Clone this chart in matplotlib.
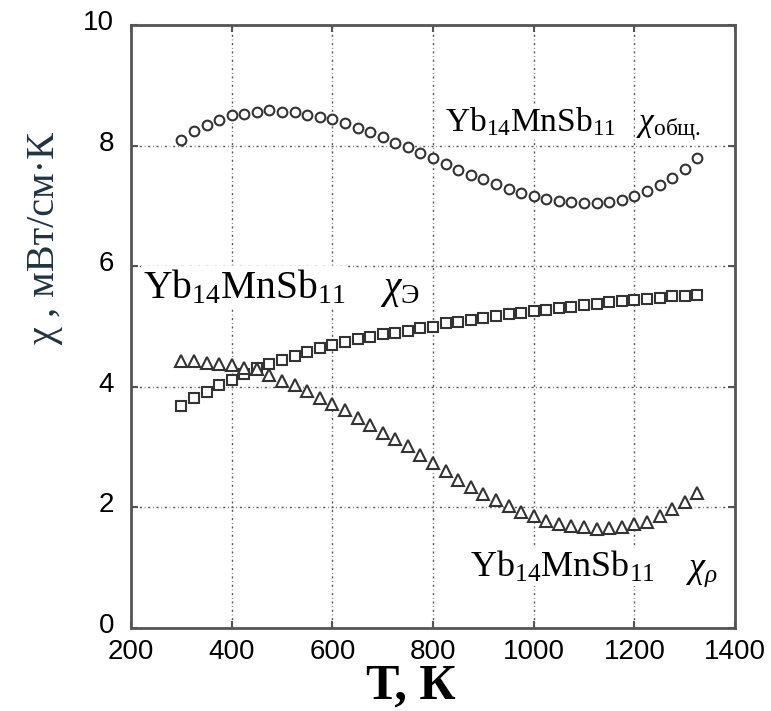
import matplotlib
matplotlib.use("Agg")
import matplotlib.pyplot as plt
import matplotlib.transforms as mtransforms
import numpy as np

# ---- data ----
T = [300, 325, 350, 375, 400, 425, 450, 475, 500, 525, 550, 575, 600, 625,
     650, 675, 700, 725, 750, 775, 800, 825, 850, 875, 900, 925, 950, 975,
     1000, 1025, 1050, 1075, 1100, 1125, 1150, 1175, 1200, 1225, 1250, 1275,
     1300, 1325]
chi_total = [8.10, 8.24, 8.34, 8.42, 8.50, 8.53, 8.56, 8.59, 8.56, 8.56, 8.51,
             8.48, 8.44, 8.37, 8.30, 8.23, 8.15, 8.05, 7.97, 7.88, 7.79, 7.69,
             7.60, 7.52, 7.44, 7.36, 7.28, 7.22, 7.16, 7.12, 7.08, 7.06, 7.05,
             7.05, 7.07, 7.10, 7.16, 7.25, 7.35, 7.47, 7.62, 7.80]
chi_e = [3.68, 3.81, 3.92, 4.03, 4.12, 4.22, 4.31, 4.37, 4.44, 4.51, 4.57, 4.64,
         4.69, 4.74, 4.79, 4.83, 4.87, 4.90, 4.93, 4.97, 5.00, 5.05, 5.08, 5.11,
         5.14, 5.17, 5.20, 5.23, 5.26, 5.28, 5.31, 5.33, 5.35, 5.38, 5.40, 5.42,
         5.44, 5.46, 5.48, 5.50, 5.51, 5.52]
chi_rho = [4.42, 4.42, 4.40, 4.38, 4.36, 4.32, 4.29, 4.20, 4.10, 4.03, 3.93,
           3.81, 3.71, 3.62, 3.48, 3.37, 3.24, 3.13, 3.01, 2.87, 2.73, 2.60,
           2.45, 2.34, 2.23, 2.13, 2.03, 1.93, 1.85, 1.78, 1.72, 1.69, 1.68,
           1.65, 1.66, 1.68, 1.72, 1.76, 1.86, 1.97, 2.09, 2.24]
x_ticks = [200, 400, 600, 800, 1000, 1200, 1400]
y_ticks = [0, 2, 4, 6, 8, 10]
compound = r'$\mathrm{Yb_{14}MnSb_{11}}$'
chi_labels = [r'$\chi_{\mathrm{общ.}}$', r'$\chi_{\mathrm{Э}}$', r'$\chi_{\rho}$']

plt.rcParams['mathtext.fontset'] = 'custom'
plt.rcParams['mathtext.rm'] = 'Liberation Serif'
plt.rcParams['mathtext.it'] = 'Liberation Serif:italic'
plt.rcParams['mathtext.bf'] = 'Liberation Serif:bold'
plt.rcParams['font.family'] = 'Liberation Sans'

W, H = 771, 711
fig = plt.figure(figsize=(W/100, H/100), dpi=100)
L, R, B, TOP = 131, 735, 628, 25
ax = fig.add_axes([L/W, 1-B/H, (R-L)/W, (B-TOP)/H])

mk_color = '#333333'
ax.plot(T, chi_total, linestyle='none', marker='o', markersize=7,
        markerfacecolor='white', markeredgecolor=mk_color, markeredgewidth=1.5, zorder=3)
ax.plot(T, chi_e, linestyle='none', marker='s', markersize=7.5,
        markerfacecolor='white', markeredgecolor=mk_color, markeredgewidth=1.5, zorder=3)
ax.plot(T, chi_rho, linestyle='none', marker='^', markersize=8.5,
        markerfacecolor='white', markeredgecolor=mk_color, markeredgewidth=1.5, zorder=3)

ax.set_xlim(200, 1400)
ax.set_ylim(0, 10)
ax.set_xticks(x_ticks)
ax.set_yticks(y_ticks)
ax.grid(True, color='#555555', linestyle=(0, (1.5, 2, 0.5, 2)), linewidth=1.0)
ax.set_axisbelow(True)

for s in ax.spines.values():
    s.set_color('#555555')
    s.set_linewidth(2)
ax.tick_params(direction='in', top=True, right=True, length=5, width=1.5,
               colors='#555555', labelcolor='black', labelsize=20)
ax.tick_params(axis='x', pad=8)
ax.tick_params(axis='y', pad=12)
up = mtransforms.ScaledTranslation(0, 5/100, fig.dpi_scale_trans)
for lab in ax.get_yticklabels():
    lab.set_transform(lab.get_transform() + up)

def fx(px):
    return px / W

def fy(py):
    return 1 - py / H

fig.text(fx(411), fy(699), 'Т, К', fontfamily='Liberation Serif', fontweight='bold',
         fontsize=36, ha='center', va='baseline')
fig.text(fx(45), fy(239), 'χ , мВт/см·К', fontfamily='Liberation Serif', fontsize=29,
         color='#1f3442', rotation=90, ha='center', va='center')

def px2data(px, py):
    return 200 + (px - L) * 1200 / (R - L), (B - py) * 10 / (B - TOP)

bb = dict(facecolor='white', edgecolor='none', pad=1)
label_pos = [((445, 131), (636, 131)), ((143, 298), (380, 298)), ((470, 577), (686, 577))]
label_size = [24, 28.5, 26]
for (p1, p2), chi, fs in zip(label_pos, chi_labels, label_size):
    ax.text(*px2data(*p1), compound, fontsize=fs, ha='left', va='baseline', bbox=bb, zorder=4)
    ax.text(*px2data(*p2), chi, fontsize=fs, ha='left', va='baseline', bbox=bb, zorder=4)

fig.savefig('out.png', dpi=100)
